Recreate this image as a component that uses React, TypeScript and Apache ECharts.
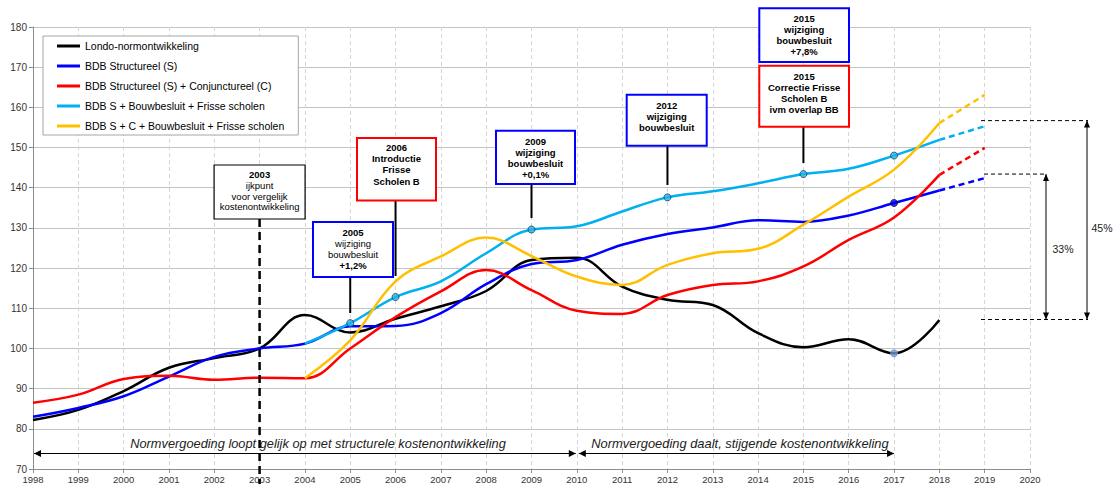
import React, { useEffect, useRef } from "react";
import * as echarts from "echarts";

// ---- Data ----
const YEARS = [1998, 1999, 2000, 2001, 2002, 2003, 2004, 2005, 2006, 2007, 2008, 2009, 2010, 2011, 2012, 2013, 2014, 2015, 2016, 2017, 2018];
const LATE_YEARS = [2004, 2005, 2006, 2007, 2008, 2009, 2010, 2011, 2012, 2013, 2014, 2015, 2016, 2017, 2018];
const PROJ_YEARS = [2018, 2019];

const LONDO = [82.2, 84.7, 89.4, 95.2, 97.6, 100, 108.3, 104.0, 107.4, 110.5, 114.3, 122.0, 122.6, 115.4, 112.1, 110.8, 103.8, 100.3, 102.3, 98.8, 107.1];
const BDB_S = [83.0, 85.2, 88.1, 93.0, 97.9, 100, 101.2, 105.5, 105.6, 108.8, 116.0, 121.0, 122.0, 125.8, 128.5, 130.1, 131.9, 131.5, 133.1, 136.2, 139.3];
const BDB_SC = [86.5, 88.5, 92.4, 93.2, 92.2, 92.7, 92.6, 100.0, 107.8, 114.2, 119.5, 114.5, 109.4, 108.6, 113.3, 115.8, 116.7, 120.4, 127.0, 132.6, 143.2];
const BDB_S_BB_FS = [101.2, 106.3, 112.8, 116.7, 123.7, 129.6, 130.4, 134.1, 137.6, 139.1, 141.1, 143.4, 144.7, 148.0, 151.9];
const BDB_SC_BB_FS = [92.6, 102.0, 116.7, 122.9, 127.6, 123.0, 117.9, 115.8, 120.8, 123.7, 124.8, 130.8, 137.8, 144.5, 156.1];

const PROJ_BDB_S = [139.3, 142.4];
const PROJ_BDB_SC = [143.2, 149.9];
const PROJ_BDB_S_BB_FS = [151.9, 155.3];
const PROJ_BDB_SC_BB_FS = [156.1, 163.1];

const MARKER_YEARS_LB = [2005, 2006, 2009, 2012, 2015, 2017];
const MARKER_YEAR_S = 2017;
const MARKER_YEAR_LONDO = 2017;

const SERIES_NAMES = [
  "Londo-normontwikkeling",
  "BDB Structureel (S)",
  "BDB Structureel (S) + Conjunctureel (C)",
  "BDB S + Bouwbesluit + Frisse scholen",
  "BDB S + C + Bouwbesluit + Frisse scholen",
];
const COLORS = ["#000000", "#0000ff", "#ff0000", "#00b0f0", "#ffc000"];

const BRACKET_BASE = 107.2;
const BRACKET_33 = 143.4;
const BRACKET_45 = 156.7;

const FONT = "Liberation Sans, Arial, sans-serif";

const pairs = (xs: number[], ys: number[]) => xs.map((x, i) => [x, ys[i]]);

export default function App() {
  const ref = useRef<HTMLDivElement>(null);

  useEffect(() => {
    if (!ref.current) return;
    const chart = echarts.init(ref.current, null, { renderer: "svg" });

    const lineSeries = (name: string, data: number[][], color: string) => ({
      name,
      type: "line",
      data,
      smooth: 0.4,
      symbol: "none",
      lineStyle: { color, width: 2.5 },
      itemStyle: { color },
      z: 3,
    });
    const projSeries = (name: string, data: number[][], color: string) => ({
      name,
      type: "line",
      data,
      symbol: "none",
      lineStyle: { color, width: 2.5, type: [6, 4] },
      itemStyle: { color },
      z: 3,
    });

    const lbMarkers = MARKER_YEARS_LB.map((y) => [y, BDB_S_BB_FS[LATE_YEARS.indexOf(y)]]);

    const option: any = {
      animation: false,
      grid: { left: 33, right: 87, top: 27, bottom: 15 },
      legend: {
        data: SERIES_NAMES,
        orient: "vertical",
        left: 43,
        top: 36,
        icon: "rect",
        itemWidth: 23,
        itemHeight: 3,
        itemGap: 6,
        padding: [3, 14, 2, 14],
        backgroundColor: "#fff",
        borderColor: "#a6a6a6",
        borderWidth: 1,
        textStyle: { fontFamily: FONT, fontSize: 10.5, color: "#000", lineHeight: 14 },
        selectedMode: false,
        z: 10,
      },
      xAxis: {
        type: "value",
        min: 1998,
        max: 2020,
        interval: 1,
        axisLine: { lineStyle: { color: "#8c8c8c" } },
        axisTick: { length: 4, lineStyle: { color: "#8c8c8c" } },
        axisLabel: {
          formatter: (v: number) => String(v),
          fontFamily: FONT,
          fontSize: 9.5,
          color: "#333",
          margin: 5,
        },
        splitLine: { show: true, lineStyle: { color: "#d6d6d6", type: [4, 3] } },
      },
      yAxis: {
        type: "value",
        min: 70,
        max: 180,
        interval: 10,
        axisLine: { show: true, lineStyle: { color: "#8c8c8c" } },
        axisTick: { show: true, length: 4, lineStyle: { color: "#8c8c8c" } },
        axisLabel: { fontFamily: FONT, fontSize: 10, color: "#333", margin: 6 },
        splitLine: { show: true, lineStyle: { color: "#c4c4c4", width: 1 } },
      },
      series: [
        lineSeries(SERIES_NAMES[0], pairs(YEARS, LONDO), COLORS[0]),
        lineSeries(SERIES_NAMES[1], pairs(YEARS, BDB_S), COLORS[1]),
        lineSeries(SERIES_NAMES[2], pairs(YEARS, BDB_SC), COLORS[2]),
        lineSeries(SERIES_NAMES[3], pairs(LATE_YEARS, BDB_S_BB_FS), COLORS[3]),
        lineSeries(SERIES_NAMES[4], pairs(LATE_YEARS, BDB_SC_BB_FS), COLORS[4]),
        projSeries("proj-s", pairs(PROJ_YEARS, PROJ_BDB_S), COLORS[1]),
        projSeries("proj-sc", pairs(PROJ_YEARS, PROJ_BDB_SC), COLORS[2]),
        projSeries("proj-s-bb", pairs(PROJ_YEARS, PROJ_BDB_S_BB_FS), COLORS[3]),
        projSeries("proj-sc-bb", pairs(PROJ_YEARS, PROJ_BDB_SC_BB_FS), COLORS[4]),
        {
          name: "m-lb",
          type: "scatter",
          data: lbMarkers,
          symbol: "circle",
          symbolSize: 7,
          itemStyle: { color: "#1fb6e8", borderColor: "#1f3f5f", borderWidth: 1 },
          z: 5,
        },
        {
          name: "m-s",
          type: "scatter",
          data: [[MARKER_YEAR_S, BDB_S[YEARS.indexOf(MARKER_YEAR_S)]]],
          symbol: "circle",
          symbolSize: 7,
          itemStyle: { color: "#0000ff", borderColor: "#111", borderWidth: 1 },
          z: 5,
        },
        {
          name: "m-londo",
          type: "scatter",
          data: [[MARKER_YEAR_LONDO, LONDO[YEARS.indexOf(MARKER_YEAR_LONDO)]]],
          symbol: "circle",
          symbolSize: 8,
          itemStyle: { color: "#6f93cf" },
          z: 5,
        },
      ],
    };
    chart.setOption(option);

    const px = (x: number, y: number) => chart.convertToPixel({ gridIndex: 0 }, [x, y]) as number[];
    const X = (yr: number) => px(yr, 100)[0];
    const Y = (v: number) => px(1998, v)[1];

    const g: any[] = [];
    const box = (
      x: number,
      y: number,
      w: number,
      h: number,
      stroke: string,
      lw: number,
      lines: [string, boolean][],
      firstY: number,
      step: number
    ) => {
      g.push({ type: "rect", shape: { x, y, width: w, height: h }, style: { fill: "#fff", stroke, lineWidth: lw }, z: 20 });
      lines.forEach(([t, b], i) => {
        g.push({
          type: "text",
          x: x + w / 2,
          y: firstY + i * step,
          style: {
            text: t,
            font: `${b ? "bold " : ""}9.5px ${FONT}`,
            fill: "#000",
            align: "center",
            verticalAlign: "middle",
          },
          z: 21,
        });
      });
    };
    const vline = (x: number, y1: number, y2: number, lw = 2, dash: any = null) =>
      g.push({
        type: "line",
        shape: { x1: x, y1, x2: x, y2 },
        style: { stroke: "#000", lineWidth: lw, lineDash: dash },
        z: 19,
      });

    // 2003 reference
    const x2003 = X(2003);
    vline(x2003, 219, 484, 2.5, [8, 5]);
    box(x2003 - 45.5, 165, 91, 54, "#000", 1.2, [["2003", true], ["ijkpunt", false], ["voor vergelijk", false], ["kostenontwikkeling", false]], 174.5, 10.8);

    // 2005
    const x2005 = X(2005);
    vline(x2005, 277, 313);
    box(313, 222, 80, 55, "#0000ff", 2, [["2005", true], ["wijziging", false], ["bouwbesluit", false], ["+1,2%", true]], 232, 11.3);

    // 2006
    const x2006 = X(2006);
    vline(x2006, 200, 276);
    box(357, 138, 79, 62.5, "#ff0000", 2, [["2006", true], ["Introductie", true], ["Frisse", true], ["Scholen B", true]], 147.5, 11.2);

    // 2009
    const x2009 = X(2009);
    vline(x2009, 184, 218);
    box(496, 130.7, 79, 53.3, "#0000ff", 2, [["2009", true], ["wijziging", true], ["bouwbesluit", true], ["+0,1%", true]], 141.5, 11);

    // 2012
    const x2012 = X(2012);
    vline(x2012, 145.5, 185);
    box(626.7, 94.7, 80, 51, "#0000ff", 2, [["2012", true], ["wijziging", true], ["bouwbesluit", true]], 105.8, 11);

    // 2015
    const x2015 = X(2015);
    vline(x2015, 126.5, 163);
    box(759.3, 8.3, 89.7, 53.7, "#0000ff", 2, [["2015", true], ["wijziging", true], ["bouwbesluit", true], ["+7,8%", true]], 18.2, 11.1);
    box(759.3, 65.7, 89.7, 61, "#ff0000", 2, [["2015", true], ["Correctie Frisse", true], ["Scholen B", true], ["ivm overlap BB", true]], 76.2, 11.1);

    // Bottom arrows
    const ay = 453.5;
    const hArrow = (xa: number, xb: number) => {
      g.push({ type: "line", shape: { x1: xa, y1: ay, x2: xb, y2: ay }, style: { stroke: "#000", lineWidth: 1 }, z: 18 });
      g.push({ type: "polygon", shape: { points: [[xa, ay], [xa + 7, ay - 3.5], [xa + 7, ay + 3.5]] }, style: { fill: "#000" }, z: 18 });
      g.push({ type: "polygon", shape: { points: [[xb, ay], [xb - 7, ay - 3.5], [xb - 7, ay + 3.5]] }, style: { fill: "#000" }, z: 18 });
    };
    hArrow(X(1998) + 1, X(2010) - 1);
    hArrow(X(2010) + 2, X(2017));
    g.push({
      type: "text",
      x: 318,
      y: 443,
      style: { text: "Normvergoeding loopt gelijk op met structurele kostenontwikkeling", font: `italic 12.8px ${FONT}`, fill: "#222", align: "center", verticalAlign: "middle" },
      z: 18,
    });
    g.push({
      type: "text",
      x: 740,
      y: 443,
      style: { text: "Normvergoeding daalt, stijgende kostenontwikkeling", font: `italic 12.9px ${FONT}`, fill: "#222", align: "center", verticalAlign: "middle" },
      z: 18,
    });

    // Right brackets
    const yb = Y(BRACKET_BASE);
    const y33 = Y(BRACKET_33);
    const y45 = Y(BRACKET_45);
    const dline = (x1: number, x2: number, y: number) =>
      g.push({ type: "line", shape: { x1, y1: y, x2, y2: y }, style: { stroke: "#000", lineWidth: 1, lineDash: [4, 3] }, z: 18 });
    dline(981, 1088, yb);
    dline(984, 1047, y33);
    dline(981, 1088, y45);
    const vArrow = (x: number, ya: number, yb2: number) => {
      g.push({ type: "line", shape: { x1: x, y1: ya, x2: x, y2: yb2 }, style: { stroke: "#000", lineWidth: 1 }, z: 18 });
      g.push({ type: "polygon", shape: { points: [[x, ya], [x - 3, ya + 7], [x + 3, ya + 7]] }, style: { fill: "#000" }, z: 18 });
      g.push({ type: "polygon", shape: { points: [[x, yb2], [x - 3, yb2 - 7], [x + 3, yb2 - 7]] }, style: { fill: "#000" }, z: 18 });
    };
    vArrow(1046, y33, yb);
    vArrow(1087, y45, yb);
    g.push({ type: "text", x: 1063, y: 249, style: { text: "33%", font: `10.5px ${FONT}`, fill: "#222", align: "center", verticalAlign: "middle" }, z: 18 });
    g.push({ type: "text", x: 1102, y: 228, style: { text: "45%", font: `10.5px ${FONT}`, fill: "#222", align: "center", verticalAlign: "middle" }, z: 18 });

    chart.setOption({ graphic: g });

    return () => chart.dispose();
  }, []);

  return (
    <div
      ref={ref}
      style={{ position: "fixed", left: 0, top: 0, width: 1117, height: 484, background: "#fff" }}
    />
  );
}
